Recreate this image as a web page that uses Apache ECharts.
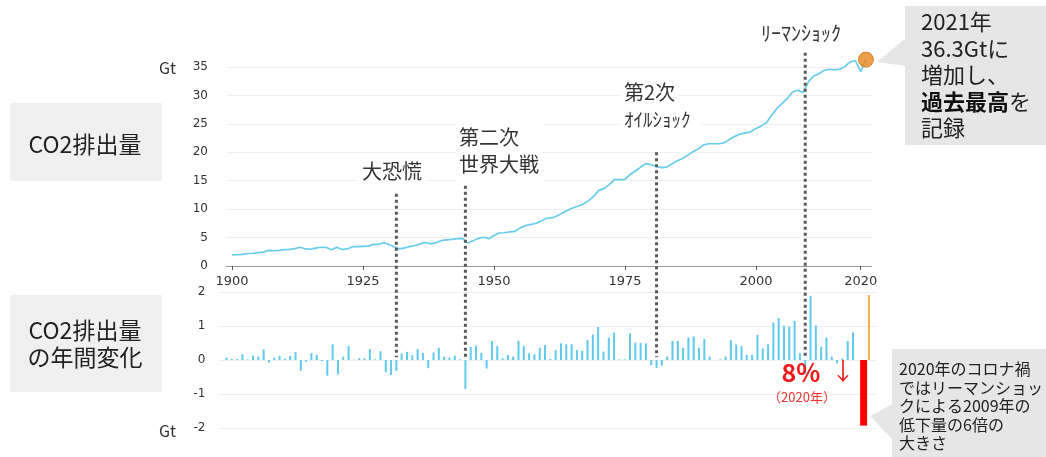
<!DOCTYPE html>
<html>
<head>
<meta charset="utf-8">
<script src="https://cdn.jsdelivr.net/npm/echarts@6/dist/echarts.min.js"></script>
<style>
html,body{margin:0;padding:0;background:#fff;}
#chart{width:1046px;height:457px;}
</style>
</head>
<body>
<div id="chart"></div>
<script>
// CO2 emissions (Gt) 1900-2021 and the year-on-year change (Gt)
const firstYear = 1900;
const emissions = [
  1.95, 2.00, 2.05, 2.20, 2.22, 2.35, 2.45, 2.75, 2.68, 2.75,
  2.87, 2.92, 3.05, 3.30, 3.00, 2.95, 3.15, 3.30, 3.27, 2.85,
  3.30, 2.90, 3.00, 3.40, 3.40, 3.45, 3.50, 3.80, 3.82, 4.10,
  3.75, 3.33, 3.02, 3.20, 3.45, 3.60, 3.92, 4.13, 3.90, 4.12,
  4.50, 4.60, 4.67, 4.80, 4.85, 4.05, 4.45, 4.85, 5.05, 4.80,
  5.35, 5.80, 5.85, 6.00, 6.10, 6.70, 7.10, 7.30, 7.50, 7.90,
  8.40, 8.45, 8.80, 9.30, 9.75, 10.20, 10.50, 10.85, 11.45, 12.25,
  13.30, 13.60, 14.30, 15.20, 15.20, 15.25, 16.10, 16.70, 17.40, 18.00,
  17.80, 17.50, 17.30, 17.40, 18.00, 18.50, 18.90, 19.50, 20.10, 20.60,
  21.30, 21.50, 21.50, 21.50, 21.70, 22.30, 22.80, 23.20, 23.40, 23.60,
  24.20, 24.60, 25.20, 26.50, 27.70, 28.60, 29.50, 30.60, 30.90, 30.50,
  32.40, 33.40, 33.80, 34.40, 34.60, 34.50, 34.60, 35.10, 35.90, 36.10,
  34.20, 36.30
];
const annualChange = [
  0.07, 0.03, 0.03, 0.17, 0.02, 0.13, 0.10, 0.31, -0.08, 0.07,
  0.12, 0.04, 0.12, 0.23, -0.32, -0.05, 0.20, 0.15, -0.03, -0.46,
  0.46, -0.42, 0.10, 0.41, 0.01, 0.05, 0.05, 0.32, 0.02, 0.26,
  -0.36, -0.44, -0.32, 0.19, 0.24, 0.14, 0.32, 0.21, -0.24, 0.22,
  0.36, 0.10, 0.07, 0.13, 0.02, -0.85, 0.39, 0.42, 0.21, -0.25,
  0.56, 0.41, 0.05, 0.15, 0.10, 0.57, 0.42, 0.20, 0.17, 0.36,
  0.44, 0.03, 0.29, 0.49, 0.46, 0.46, 0.29, 0.27, 0.59, 0.75,
  0.97, 0.25, 0.65, 0.81, 0.02, 0.02, 0.78, 0.51, 0.50, 0.49,
  -0.15, -0.23, -0.17, 0.10, 0.56, 0.56, 0.36, 0.66, 0.69, 0.36,
  0.62, 0.10, 0.00, 0.02, 0.10, 0.59, 0.46, 0.41, 0.15, 0.15,
  0.74, 0.34, 0.46, 1.10, 1.23, 1.01, 0.98, 1.15, 0.20, -0.42,
  1.89, 1.01, 0.39, 0.66, 0.10, -0.10, 0.05, 0.56, 0.81, 0.00,
  -1.93, 1.91
];
const yearTicks = [1900, 1925, 1950, 1975, 2000, 2020];
const eventNames = ['大恐慌', '第二次\n世界大戦', '第2次', 'ﾘｰﾏﾝｼｮｯｸ'];
const eventYears = [1932, 1945, 1981, 2009];
const eventLineTop = [12.7, 14.1, 20.0, 37.5];   // where each dotted line starts, in Gt of the upper chart

const FONT = '"Noto Sans CJK JP", "Noto Sans", sans-serif';
const NUMFONT = '"DejaVu Sans", Verdana, sans-serif';
const BLUE = '#5ecaec';

const pairs = (arr) => arr.map((v, i) => [firstYear + i, v]);
const lastYear = firstYear + emissions.length - 1;
const covidYear = 2020;

const chart = echarts.init(document.getElementById('chart'));

const hiddenX = {
  type: 'value', gridIndex: 1, min: 1898.5, max: 2022.5, show: false
};

chart.setOption({
  animation: false,
  grid: [
    { left: 226, top: 67, width: 645.7, height: 199 },
    { left: 218.5, top: 292, width: 658.4, height: 136 }
  ],
  xAxis: [
    {
      type: 'value', gridIndex: 0, min: 1898.85, max: 2022.1,
      splitLine: { show: false },
      axisLine: { lineStyle: { color: '#999', width: 1 } },
      axisTick: { show: true, length: 4, lineStyle: { color: '#555' }, customValues: yearTicks },
      axisLabel: {
        customValues: yearTicks, color: '#333', fontSize: 13, fontFamily: NUMFONT, margin: 9,
        formatter: v => String(v)
      }
    },
    Object.assign({}, hiddenX),
    Object.assign({}, hiddenX),
    Object.assign({}, hiddenX)
  ],
  yAxis: [
    {
      type: 'value', gridIndex: 0, min: 0, max: 35, interval: 5,
      axisLine: { show: false }, axisTick: { show: false },
      splitLine: { lineStyle: { color: '#efefef' } },
      axisLabel: { color: '#333', fontSize: 12, fontFamily: NUMFONT, margin: 18 }
    },
    {
      type: 'value', gridIndex: 1, min: -2, max: 2, interval: 1,
      axisLine: { show: false }, axisTick: { show: false },
      splitLine: { lineStyle: { color: '#efefef' } },
      axisLabel: { color: '#333', fontSize: 12, fontFamily: NUMFONT, margin: 13 }
    }
  ],
  series: [
    {
      type: 'line', xAxisIndex: 0, yAxisIndex: 0, clip: false,
      data: pairs(emissions), showSymbol: false,
      lineStyle: { color: '#66cdea', width: 1.7 }, z: 3
    },
    {
      type: 'scatter', xAxisIndex: 0, yAxisIndex: 0, clip: false,
      data: [[lastYear, emissions[emissions.length - 1]]],
      symbolSize: 15,
      itemStyle: { color: '#e8861c', borderColor: '#c96f12', borderWidth: 1 }, z: 4
    },
    {
      type: 'bar', xAxisIndex: 1, yAxisIndex: 1, barWidth: 2,
      data: pairs(annualChange).filter(d => d[0] < covidYear),
      itemStyle: { color: BLUE }
    },
    {
      type: 'bar', xAxisIndex: 2, yAxisIndex: 1, barWidth: 7,
      data: pairs(annualChange).filter(d => d[0] === covidYear),
      itemStyle: { color: '#ff0000' }
    },
    {
      type: 'bar', xAxisIndex: 3, yAxisIndex: 1, barWidth: 2,
      data: pairs(annualChange).filter(d => d[0] === lastYear),
      itemStyle: { color: '#f5b04c' }
    }
  ]
});

// dotted event lines: x from the lower chart's year scale, y spanning both charts
const graphics = [];
eventYears.forEach((yr, i) => {
  const x = chart.convertToPixel({ xAxisIndex: 1 }, yr);
  const y1 = chart.convertToPixel({ yAxisIndex: 0 }, eventLineTop[i]);
  const y2 = chart.convertToPixel({ yAxisIndex: 1 }, 0.08);
  graphics.push({
    type: 'line', z: 10,
    shape: { x1: x, y1: y1, x2: x, y2: y2 },
    style: { stroke: '#595959', lineWidth: 3, lineDash: [3, 3] }
  });
});

function txt(x, y, text, opts) {
  return {
    type: 'text', x: x, y: y, z: 20,
    style: Object.assign({
      text: text, fill: '#333', font: '20px ' + FONT,
      textAlign: 'left', textVerticalAlign: 'middle'
    }, opts || {})
  };
}

graphics.push(
  // left-hand labels
  { type: 'rect', shape: { x: 10, y: 103, width: 152, height: 78 }, style: { fill: '#f0f0f0' }, z: 1 },
  txt(85, 144, 'CO2排出量', { font: '23px ' + FONT, textAlign: 'center', fill: '#222' }),
  { type: 'rect', shape: { x: 10, y: 295, width: 152, height: 97 }, style: { fill: '#f0f0f0' }, z: 1 },
  txt(85, 344, 'CO2排出量\nの年間変化', { font: '23px ' + FONT, textAlign: 'center', fill: '#222', lineHeight: 27 }),
  txt(159, 68, 'Gt', { font: '16px ' + FONT, fill: '#333' }),
  txt(159, 431, 'Gt', { font: '16px ' + FONT, fill: '#333' }),

  // event labels
  txt(358, 171, eventNames[0], { backgroundColor: '#fff', padding: [3, 4] }),
  txt(455, 151, eventNames[1], { lineHeight: 27, backgroundColor: '#fff', padding: [3, 4] }),
  txt(620, 92, eventNames[2], { backgroundColor: '#fff', padding: [3, 4] }),
  txt(620, 120, 'ｵｲﾙｼｮｯｸ', { font: '19px ' + FONT, backgroundColor: '#fff', padding: [2, 10, 2, 4] }),
  txt(761, 33, eventNames[3], { font: '20px ' + FONT }),

  // 2021 callout
  { type: 'polygon', shape: { points: [[877, 62], [906, 38], [906, 66]] }, style: { fill: '#e6e6e6' }, z: 5 },
  { type: 'rect', shape: { x: 905, y: 6, width: 141, height: 139 }, style: { fill: '#e6e6e6' }, z: 5 },
  txt(921, 75, '2021年\n36.3Gtに\n増加し、\n{b|過去最高}を\n記録', {
    font: '22px ' + FONT, fill: '#222', lineHeight: 26.5,
    rich: { b: { fontWeight: 'bold', fontSize: 22, fontFamily: FONT, lineHeight: 26.5, fill: '#111' } }
  }),

  // 2020 drop annotation
  txt(801, 372, '8%', { font: 'bold 25px ' + FONT, fill: '#ee1c1c', textAlign: 'center' }),
  txt(843, 371, '↓', { font: '24px ' + FONT, fill: '#ee1c1c', textAlign: 'center' }),
  txt(802, 397, '（2020年）', { font: '13px ' + FONT, fill: '#ee3333', textAlign: 'center' }),

  // 2020 callout
  { type: 'polygon', shape: { points: [[870, 416], [893, 404], [893, 440]] }, style: { fill: '#e6e6e6' }, z: 5 },
  { type: 'rect', shape: { x: 892, y: 349, width: 154, height: 108 }, style: { fill: '#e6e6e6' }, z: 5 },
  txt(899, 406, '2020年のコロナ禍\nではリーマンショッ\nクによる2009年の\n低下量の6倍の\n大きさ', {
    font: '16px ' + FONT, fill: '#222', lineHeight: 18.5
  })
);

chart.setOption({ graphic: graphics });
</script>
</body>
</html>
